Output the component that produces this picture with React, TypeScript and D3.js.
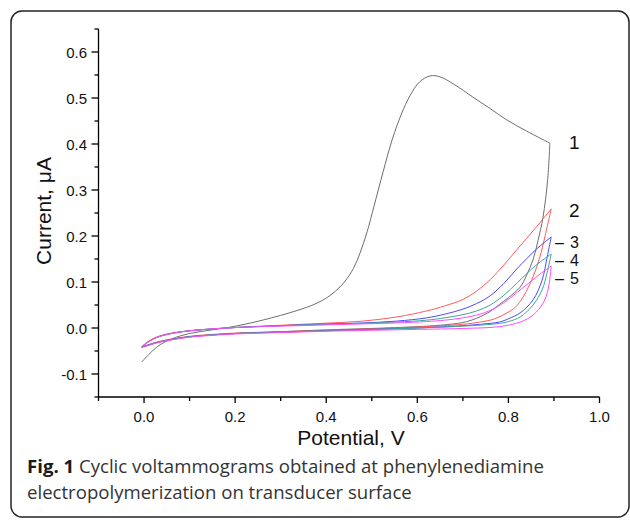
import React from "react";
import * as d3 from "d3";

type P = [number, number];

// x ticks, y ticks
const xMajor = [0.0, 0.2, 0.4, 0.6, 0.8, 1.0];
const xMinor = [-0.1, 0.1, 0.3, 0.5, 0.7, 0.9];
const yMajor = [-0.1, 0.0, 0.1, 0.2, 0.3, 0.4, 0.5, 0.6];
const yMinor = [-0.15, -0.05, 0.05, 0.15, 0.25, 0.35, 0.45, 0.55, 0.65];

// Curve 1 (grey)
const c1Fwd: P[] = [
  [-0.005, -0.074], [0.01, -0.058], [0.03, -0.04], [0.06, -0.024], [0.1, -0.012],
  [0.15, -0.004], [0.19, 0.002], [0.26, 0.017], [0.336, 0.038], [0.375, 0.052],
  [0.4, 0.065], [0.42, 0.08], [0.44, 0.1], [0.46, 0.13], [0.475, 0.165],
  [0.49, 0.21], [0.505, 0.265], [0.525, 0.34], [0.545, 0.41], [0.565, 0.465],
  [0.584, 0.505], [0.605, 0.535], [0.628, 0.548], [0.65, 0.546], [0.68, 0.53],
  [0.722, 0.502], [0.76, 0.477], [0.797, 0.452], [0.84, 0.428], [0.891, 0.402],
];
const c1Rev: P[] = [
  [0.891, 0.402], [0.886, 0.32], [0.876, 0.241], [0.865, 0.19], [0.854, 0.148],
  [0.84, 0.115], [0.826, 0.089], [0.8, 0.066], [0.78, 0.051], [0.76, 0.036],
  [0.73, 0.021], [0.7, 0.012], [0.65, 0.006], [0.6, 0.003], [0.5, -0.001],
  [0.4, -0.004], [0.3, -0.008], [0.2, -0.012], [0.15, -0.015], [0.1, -0.019],
  [0.06, -0.025], [0.03, -0.031], [0.01, -0.037], [-0.005, -0.042],
];

// Curve 2 (red)
const c2Fwd: P[] = [
  [-0.005, -0.041], [0.005, -0.032], [0.02, -0.023], [0.035, -0.017], [0.06, -0.011],
  [0.1, -0.006], [0.15, -0.002], [0.2, 0.001], [0.3, 0.006], [0.41, 0.011],
  [0.48, 0.015], [0.555, 0.024], [0.62, 0.037], [0.66, 0.048], [0.7, 0.062],
  [0.73, 0.08], [0.76, 0.105], [0.79, 0.137], [0.82, 0.172], [0.86, 0.218],
  [0.894, 0.259],
];
const c2Rev: P[] = [
  [0.894, 0.259], [0.88, 0.198], [0.869, 0.154], [0.854, 0.111], [0.832, 0.067],
  [0.815, 0.045], [0.797, 0.033], [0.77, 0.02], [0.738, 0.013], [0.7, 0.008],
  [0.6, 0.002], [0.5, -0.002], [0.4, -0.005], [0.3, -0.008], [0.2, -0.011],
  [0.15, -0.014], [0.1, -0.018], [0.06, -0.024], [0.03, -0.03], [0.01, -0.036],
  [-0.005, -0.041],
];

// Curve 3 (blue)
const c3Fwd: P[] = [
  [-0.005, -0.041], [0.005, -0.033], [0.02, -0.024], [0.035, -0.018], [0.06, -0.012],
  [0.1, -0.006], [0.15, -0.002], [0.2, 0.001], [0.3, 0.005], [0.41, 0.009],
  [0.48, 0.011], [0.555, 0.015], [0.62, 0.022], [0.66, 0.03], [0.7, 0.041],
  [0.73, 0.053], [0.76, 0.07], [0.79, 0.097], [0.82, 0.13], [0.86, 0.17],
  [0.894, 0.198],
];
const c3Rev: P[] = [
  [0.894, 0.198], [0.885, 0.154], [0.874, 0.104], [0.854, 0.061], [0.826, 0.033],
  [0.8, 0.02], [0.78, 0.013], [0.738, 0.008], [0.7, 0.005], [0.6, 0.0],
  [0.5, -0.003], [0.4, -0.006], [0.3, -0.009], [0.2, -0.012], [0.15, -0.015],
  [0.1, -0.019], [0.06, -0.025], [0.03, -0.031], [0.01, -0.037], [-0.005, -0.041],
];

// Curve 4 (teal)
const c4Fwd: P[] = [
  [-0.005, -0.041], [0.005, -0.033], [0.02, -0.024], [0.035, -0.018], [0.06, -0.012],
  [0.1, -0.006], [0.15, -0.002], [0.2, 0.001], [0.3, 0.005], [0.41, 0.008],
  [0.48, 0.01], [0.555, 0.013], [0.62, 0.017], [0.66, 0.022], [0.7, 0.029],
  [0.73, 0.037], [0.76, 0.05], [0.79, 0.071], [0.82, 0.099], [0.86, 0.136],
  [0.894, 0.161],
];
const c4Rev: P[] = [
  [0.894, 0.161], [0.885, 0.12], [0.874, 0.083], [0.854, 0.05], [0.826, 0.024],
  [0.8, 0.014], [0.78, 0.01], [0.7, 0.004], [0.6, 0.0], [0.5, -0.003],
  [0.4, -0.006], [0.3, -0.009], [0.2, -0.012], [0.15, -0.015], [0.1, -0.019],
  [0.06, -0.025], [0.03, -0.031], [0.01, -0.037], [-0.005, -0.041],
];

// Curve 5 (magenta)
const c5Fwd: P[] = [
  [-0.005, -0.041], [0.005, -0.033], [0.02, -0.024], [0.035, -0.018], [0.06, -0.012],
  [0.1, -0.006], [0.15, -0.002], [0.2, 0.001], [0.3, 0.004], [0.41, 0.007],
  [0.48, 0.009], [0.555, 0.011], [0.62, 0.014], [0.66, 0.017], [0.7, 0.022],
  [0.73, 0.028], [0.76, 0.038], [0.79, 0.055], [0.82, 0.078], [0.86, 0.11],
  [0.894, 0.135],
];
const c5Rev: P[] = [
  [0.894, 0.135], [0.887, 0.083], [0.876, 0.054], [0.854, 0.028], [0.826, 0.013],
  [0.78, 0.003], [0.7, -0.001], [0.6, -0.003], [0.5, -0.005], [0.4, -0.007],
  [0.3, -0.01], [0.2, -0.013], [0.15, -0.016], [0.1, -0.02], [0.06, -0.026],
  [0.03, -0.032], [0.01, -0.038], [-0.005, -0.042],
];

const seriesNames = ["1", "2", "3", "4", "5"];
const seriesColors = ["#6e6e6e", "#ff5a5a", "#4a4aff", "#3aa898", "#ff4cff"];
const seriesData: [P[], P[]][] = [
  [c1Fwd, c1Rev], [c2Fwd, c2Rev], [c3Fwd, c3Rev], [c4Fwd, c4Rev], [c5Fwd, c5Rev],
];
// label anchor values (current level next to each curve's vertex)
const labelY = [0.404, 0.2565, 0.187, 0.148, 0.109];
const labelDash = [false, false, true, true, true];
const labelSize = [19, 19, 16, 16, 16];

const xTitle = "Potential, V";
const yTitle = "Current, μA";
const captionBold = "Fig. 1";
const captionLine1 = " Cyclic voltammograms obtained at phenylenediamine";
const captionLine2 = "electropolymerization on transducer surface";

export default function App() {
  const x = d3.scaleLinear().domain([-0.1, 1.0]).range([98.5, 599.5]);
  const y = d3.scaleLinear().domain([-0.15, 0.65]).range([397, 29]);
  const fmt = d3.format(".1f");
  const line = d3
    .line<P>()
    .x((d) => x(d[0]))
    .y((d) => y(d[1]))
    .curve(d3.curveCatmullRom.alpha(0.5));
  const axisFont = "'Liberation Sans', Arial, sans-serif";
  const x0 = x(-0.1);
  const yb = y(-0.15);

  return (
    <svg
      width={630}
      height={520}
      style={{ position: "absolute", left: 0, top: 0, background: "#fff" }}
    >
      <rect x={11} y={11} width={618} height={506} rx={11} ry={11} fill="none" stroke="#222" strokeWidth={1.5} />
      {/* curves */}
      <g fill="none" strokeWidth={1} strokeLinejoin="round">
        {seriesData.map((pair, i) => (
          <g key={i} stroke={seriesColors[i]}>
            <path d={line(pair[0]) || ""} />
            <path d={line(pair[1]) || ""} />
          </g>
        ))}
      </g>
      {/* axes */}
      <g stroke="#000" strokeWidth={1.3} fill="none">
        <line x1={x0} y1={y(0.65)} x2={x0} y2={yb} />
        <line x1={x0} y1={yb} x2={x(1.0)} y2={yb} />
        {xMajor.map((v) => (
          <line key={"xM" + v} x1={x(v)} x2={x(v)} y1={yb} y2={yb + 6} />
        ))}
        {xMinor.map((v) => (
          <line key={"xm" + v} x1={x(v)} x2={x(v)} y1={yb} y2={yb + 4} />
        ))}
        {yMajor.map((v) => (
          <line key={"yM" + v} x1={x0 - 7} x2={x0} y1={y(v)} y2={y(v)} />
        ))}
        {yMinor.map((v) => (
          <line key={"ym" + v} x1={x0 - 4} x2={x0} y1={y(v)} y2={y(v)} />
        ))}
      </g>
      <g fontFamily={axisFont} fontSize={15} fill="#111">
        {xMajor.map((v) => (
          <text key={"xt" + v} x={x(v)} y={422} textAnchor="middle">
            {fmt(v)}
          </text>
        ))}
        {yMajor.map((v) => (
          <text key={"yt" + v} x={87} y={y(v) + 5.5} textAnchor="end">
            {fmt(v).replace("−", "-")}
          </text>
        ))}
      </g>
      <text x={351} y={445} fontFamily={axisFont} fontSize={21} textAnchor="middle" fill="#111">
        {xTitle}
      </text>
      <text
        transform="translate(51,211) rotate(-90)"
        fontFamily={axisFont}
        fontSize={21}
        textAnchor="middle"
        fill="#111"
      >
        {yTitle}
      </text>
      {/* series labels */}
      <g fontFamily={axisFont} fill="#111">
        {seriesNames.map((n, i) => (
          <g key={n} fontSize={labelSize[i]}>
            {labelDash[i] && (
              <text x={555} y={y(labelY[i]) + 6}>–</text>
            )}
            <text x={labelDash[i] ? 570 : 569} y={y(labelY[i]) + (labelDash[i] ? 6 : 7)}>{n}</text>
          </g>
        ))}
      </g>
      {/* caption */}
      <text x={27} y={473} fontFamily="'Open Sans', sans-serif" fontSize={18.6} fill="#333">
        <tspan fontWeight="bold" fill="#1a1a1a">{captionBold}</tspan>
        <tspan>{captionLine1}</tspan>
      </text>
      <text x={27} y={499} fontFamily="'Open Sans', sans-serif" fontSize={18.6} fill="#333">
        {captionLine2}
      </text>
    </svg>
  );
}
